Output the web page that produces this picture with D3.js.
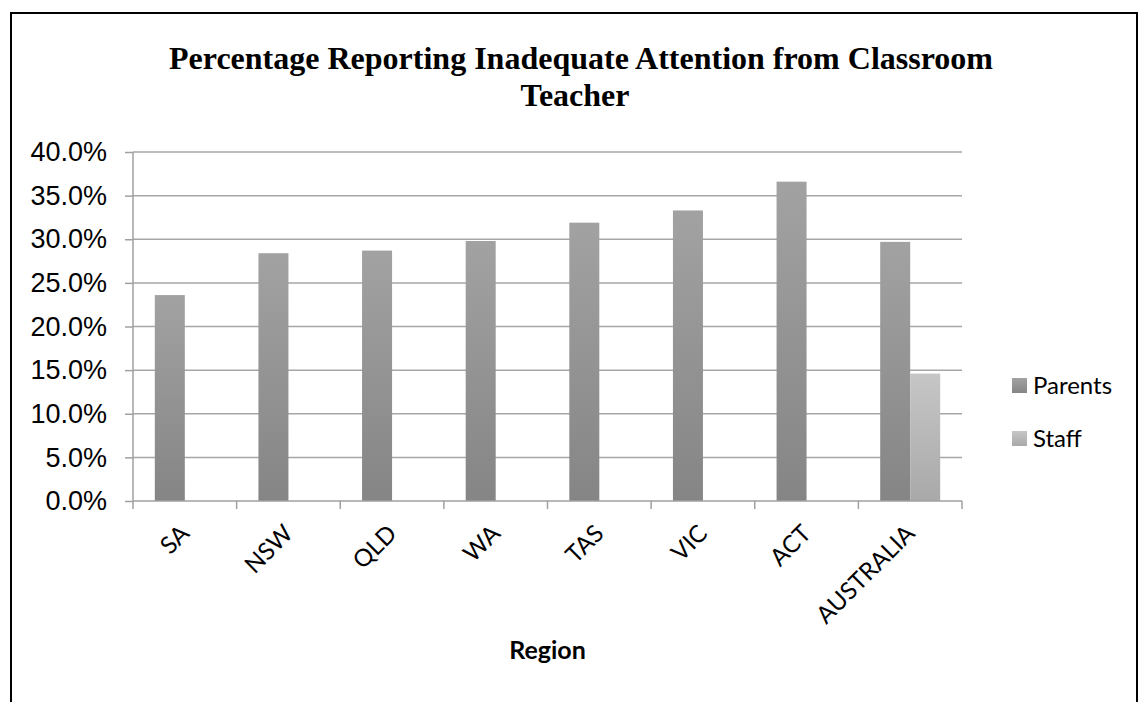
<!DOCTYPE html>
<html>
<head>
<meta charset="utf-8">
<script src="https://d3js.org/d3.v7.min.js"></script>
<style>
  body { margin: 0; background: #fff; }
  svg { display: block; }
</style>
</head>
<body>
<svg width="1139" height="702"></svg>
<script>
// chart data
var regions = ["SA", "NSW", "QLD", "WA", "TAS", "VIC", "ACT", "AUSTRALIA"];
var parents = [0.236, 0.284, 0.287, 0.298, 0.319, 0.333, 0.366, 0.297];
var staff = [null, null, null, null, null, null, null, 0.146];
var seriesNames = ["Parents", "Staff"];
var yTicks = [0, 0.05, 0.10, 0.15, 0.20, 0.25, 0.30, 0.35, 0.40];

var svg = d3.select("svg"),
  width = +svg.attr("width"),
  height = +svg.attr("height");

var margin = {left: 133, right: 1139 - 962, top: 152, bottom: 702 - 501};
var plotW = width - margin.left - margin.right,
  plotH = height - margin.top - margin.bottom;

// gradients for bars
var defs = svg.append("defs");
var grads = [["gParents", "#a2a2a2", "#858585"], ["gStaff", "#c6c6c6", "#a9a9a9"]];
grads.forEach(function (g) {
  var lg = defs.append("linearGradient").attr("id", g[0])
    .attr("x1", 0).attr("y1", 0).attr("x2", 0).attr("y2", 1);
  lg.append("stop").attr("offset", "0%").attr("stop-color", g[1]);
  lg.append("stop").attr("offset", "100%").attr("stop-color", g[2]);
});

// chart border
svg.append("rect")
  .attr("x", 11).attr("y", 13)
  .attr("width", 1126).attr("height", 720)
  .attr("fill", "none").attr("stroke", "#000").attr("stroke-width", 2);

// title
var title = svg.append("text")
  .attr("text-anchor", "middle")
  .attr("font-family", "'Liberation Serif', 'Times New Roman', serif")
  .attr("font-weight", "bold")
  .attr("font-size", 32)
  .attr("fill", "#000");
title.append("tspan").attr("x", 581).attr("y", 69)
  .text("Percentage Reporting Inadequate Attention from Classroom");
title.append("tspan").attr("x", 575).attr("y", 106).text("Teacher");

var g = svg.append("g").attr("transform", "translate(" + margin.left + "," + margin.top + ")");

var x = d3.scaleBand().domain(regions).range([0, plotW]).paddingInner(0).paddingOuter(0);
var x1 = d3.scaleBand().domain(seriesNames).range([0, 60]);
var y = d3.scaleLinear().domain([0, 0.40]).range([plotH, 0]);

// gridlines
g.append("g").selectAll("line")
  .data(yTicks.slice(1))
  .enter().append("line")
  .attr("x1", 0).attr("x2", plotW)
  .attr("y1", function (d) { return y(d); })
  .attr("y2", function (d) { return y(d); })
  .attr("stroke", "#a6a6a6").attr("stroke-width", 1.5);

// bars
var rows = regions.map(function (r, i) {
  return {region: r, values: [
    {name: "Parents", v: parents[i]},
    {name: "Staff", v: staff[i]}
  ]};
});
var groups = g.append("g").selectAll("g")
  .data(rows)
  .enter().append("g")
  .attr("transform", function (d) {
    return "translate(" + (x(d.region) + x.bandwidth() / 2 - 30) + ",0)";
  });
groups.selectAll("rect")
  .data(function (d) { return d.values.filter(function (e) { return e.v != null; }); })
  .enter().append("rect")
  .attr("x", function (d) { return x1(d.name); })
  .attr("width", x1.bandwidth())
  .attr("y", function (d) { return y(d.v); })
  .attr("height", function (d) { return plotH - y(d.v); })
  .attr("fill", function (d) { return d.name === "Parents" ? "url(#gParents)" : "url(#gStaff)"; });

// y axis
var yAxis = d3.axisLeft(y).tickValues(yTicks).tickSize(8).tickPadding(18)
  .tickFormat(d3.format(".1%"));
var ya = g.append("g").call(yAxis);
ya.select(".domain").attr("stroke", "#a0a0a0").attr("stroke-width", 1.5).attr("d", "M0,0V" + plotH);
ya.selectAll(".tick line").attr("stroke", "#a0a0a0").attr("stroke-width", 1.5);
ya.selectAll(".tick text")
  .attr("font-family", "'Liberation Sans', Arial, sans-serif")
  .attr("font-size", 27).attr("fill", "#000");

// x axis with ticks on category boundaries
var xa = g.append("g").attr("transform", "translate(0," + plotH + ")");
xa.append("line").attr("x1", 0).attr("x2", plotW)
  .attr("stroke", "#a0a0a0").attr("stroke-width", 1.5);
xa.selectAll(".bt")
  .data(regions.concat([null]))
  .enter().append("line")
  .attr("x1", function (d, i) { return i * x.step(); })
  .attr("x2", function (d, i) { return i * x.step(); })
  .attr("y1", 0).attr("y2", 8)
  .attr("stroke", "#a0a0a0").attr("stroke-width", 1.5);
xa.selectAll(".lbl")
  .data(regions)
  .enter().append("text")
  .attr("text-anchor", "end")
  .attr("font-family", "Lato, 'Open Sans', sans-serif")
  .attr("font-size", 24)
  .attr("fill", "#000")
  .attr("transform", function (d) {
    return "translate(" + (x(d) + x.bandwidth() / 2 + 6) + ",34) rotate(-45)";
  })
  .text(function (d) { return d; });

// x axis title
svg.append("text")
  .attr("x", margin.left + plotW / 2).attr("y", 659)
  .attr("text-anchor", "middle")
  .attr("font-family", "Lato, 'Open Sans', sans-serif")
  .attr("font-weight", "bold").attr("font-size", 25)
  .text("Region");

// legend
var legend = svg.append("g").attr("transform", "translate(1012,378)");
var li = legend.selectAll("g")
  .data(seriesNames)
  .enter().append("g")
  .attr("transform", function (d, i) { return "translate(0," + (i * 53) + ")"; });
li.append("rect").attr("width", 15).attr("height", 15)
  .attr("fill", function (d) { return d === "Parents" ? "url(#gParents)" : "url(#gStaff)"; });
li.append("text").attr("x", 21).attr("y", 16)
  .attr("font-family", "Lato, 'Open Sans', sans-serif")
  .attr("font-size", 24).attr("fill", "#000")
  .text(function (d) { return d; });
</script>
</body>
</html>
